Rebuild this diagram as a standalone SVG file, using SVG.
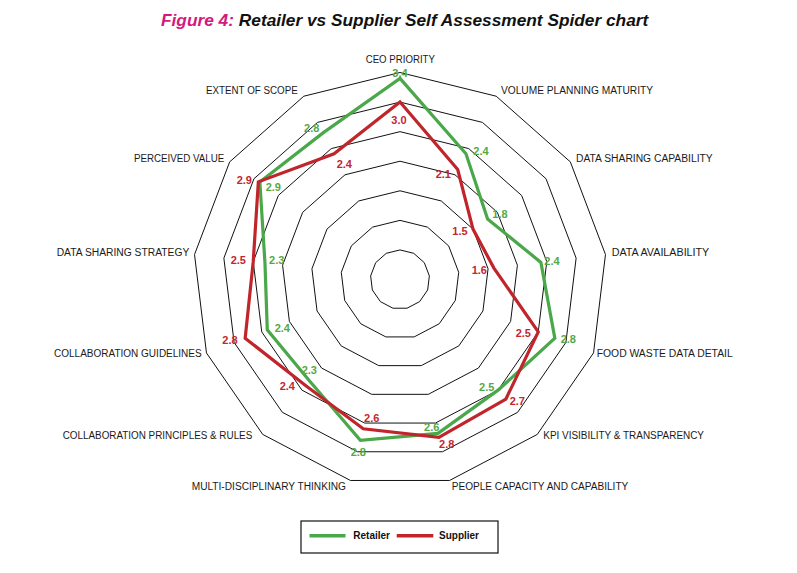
<svg xmlns="http://www.w3.org/2000/svg" xmlns:xlink="http://www.w3.org/1999/xlink" width="797" height="573" viewBox="0 0 797 573">
<style>
.bg{fill:#ffffff}
.ring{fill:none;stroke:#111;stroke-width:1;vector-effect:non-scaling-stroke}
.ax{font-family:"Liberation Sans",Arial,sans-serif;font-size:10px;fill:#1a1a1a}
.vg{font-family:"Liberation Sans",Arial,sans-serif;font-size:11px;font-weight:bold;fill:#55a845;text-anchor:middle}
.vr{font-family:"Liberation Sans",Arial,sans-serif;font-size:11px;font-weight:bold;fill:#c4262e;text-anchor:middle}
.lg{fill:none;stroke:#4aa84a;stroke-width:3.2;stroke-linejoin:miter}
.lr{fill:none;stroke:#c0252c;stroke-width:3.2;stroke-linejoin:miter}
.title{font-family:"Liberation Sans",Arial,sans-serif;font-size:17.3px;font-weight:bold;font-style:italic}
.leg{font-family:"Liberation Sans",Arial,sans-serif;font-size:10px;font-weight:bold;fill:#111}
</style>
<defs>
<polygon id="ringShape" class="ring" points="0,-100 46.472,-88.546 82.298,-56.806 99.271,-12.054 93.502,35.46 66.312,74.851 23.932,97.094 -23.932,97.094 -66.312,74.851 -93.502,35.46 -99.271,-12.054 -82.298,-56.806 -46.472,-88.546"/>
</defs>
<rect class="bg" x="0" y="0" width="797" height="573"/>
<g id="title">
<text class="title" x="161" y="26"><tspan fill="#d4197e">Figure 4:</tspan><tspan fill="#111"> Retailer vs Supplier Self Assessment Spider chart</tspan></text>
</g>
<g id="grid">
<use xlink:href="#ringShape" transform="translate(400 279.5) scale(0.2957)"/>
<use xlink:href="#ringShape" transform="translate(400 279.5) scale(0.5914)"/>
<use xlink:href="#ringShape" transform="translate(400 279.5) scale(0.8871)"/>
<use xlink:href="#ringShape" transform="translate(400 279.5) scale(1.1828)"/>
<use xlink:href="#ringShape" transform="translate(400 279.5) scale(1.4785)"/>
<use xlink:href="#ringShape" transform="translate(400 279.5) scale(1.7742)"/>
<use xlink:href="#ringShape" transform="translate(400 279.5) scale(2.0699)"/>
</g>
<g id="axis-labels">
<text id="ax-ceo" class="ax" x="365.7" y="63" textLength="69.3" lengthAdjust="spacingAndGlyphs">CEO PRIORITY</text>
<text id="ax-vpm" class="ax" x="501" y="93.5" textLength="152" lengthAdjust="spacingAndGlyphs">VOLUME PLANNING MATURITY</text>
<text id="ax-dsc" class="ax" x="576" y="162" textLength="136.7" lengthAdjust="spacingAndGlyphs">DATA SHARING CAPABILITY</text>
<text id="ax-da" class="ax" x="611.7" y="256" textLength="97.6" lengthAdjust="spacingAndGlyphs">DATA AVAILABILITY</text>
<text id="ax-fw" class="ax" x="596.7" y="357" textLength="136" lengthAdjust="spacingAndGlyphs">FOOD WASTE DATA DETAIL</text>
<text id="ax-kpi" class="ax" x="543.3" y="439.3" textLength="160.7" lengthAdjust="spacingAndGlyphs">KPI VISIBILITY &amp; TRANSPARENCY</text>
<text id="ax-pcc" class="ax" x="451.7" y="489.6" textLength="176.6" lengthAdjust="spacingAndGlyphs">PEOPLE CAPACITY AND CAPABILITY</text>
<text id="ax-mdt" class="ax" x="191.7" y="489.6" textLength="154.3" lengthAdjust="spacingAndGlyphs">MULTI-DISCIPLINARY THINKING</text>
<text id="ax-cpr" class="ax" x="62.7" y="439" textLength="189.6" lengthAdjust="spacingAndGlyphs">COLLABORATION PRINCIPLES &amp; RULES</text>
<text id="ax-cg" class="ax" x="54" y="357" textLength="147.7" lengthAdjust="spacingAndGlyphs">COLLABORATION GUIDELINES</text>
<text id="ax-dss" class="ax" x="56.7" y="256" textLength="132.6" lengthAdjust="spacingAndGlyphs">DATA SHARING STRATEGY</text>
<text id="ax-pv" class="ax" x="134" y="162" textLength="90.3" lengthAdjust="spacingAndGlyphs">PERCEIVED VALUE</text>
<text id="ax-eos" class="ax" x="206" y="93.5" textLength="91.7" lengthAdjust="spacingAndGlyphs">EXTENT OF SCOPE</text>
</g>
<g id="connectors">
<polygon id="series-retailer" class="lg" points="400,78.42 465.96,153.82 487.61,219.03 540.9,262.39 554.83,338.22 498.04,390.17 437.93,433.39 360.37,440.28 309.8,381.31 267.28,329.83 264.97,263.1 259.85,182.07 323.05,132.88"/>
<polygon id="series-supplier" class="lr" points="400,102.08 457.71,169.53 473.01,229.11 493.93,268.09 538.24,331.93 505.89,399.02 438.92,437.41 363.2,428.79 305.88,385.74 245.17,338.22 253.23,261.68 258.35,181.77 334.04,153.82"/>
</g>
<g id="values-retailer">
<text class="vg" x="400" y="76.5">3.4</text>
<text class="vg" x="481" y="155">2.4</text>
<text class="vg" x="500" y="218.3">1.8</text>
<text class="vg" x="552" y="264.7">2.4</text>
<text class="vg" x="568.3" y="343">2.8</text>
<text class="vg" x="486.7" y="391.3">2.5</text>
<text class="vg" x="431.7" y="430.7">2.6</text>
<text class="vg" x="358.3" y="455.7">2.8</text>
<text class="vg" x="309.3" y="374">2.3</text>
<text class="vg" x="282.3" y="331.7">2.4</text>
<text class="vg" x="276.7" y="264">2.3</text>
<text class="vg" x="273.3" y="190.7">2.9</text>
<text class="vg" x="311.7" y="132.3">2.8</text>
</g>
<g id="values-supplier">
<text class="vr" x="399" y="124">3.0</text>
<text class="vr" x="443.3" y="178.3">2.1</text>
<text class="vr" x="460" y="235">1.5</text>
<text class="vr" x="479.3" y="274">1.6</text>
<text class="vr" x="523.3" y="337.3">2.5</text>
<text class="vr" x="517.3" y="404.7">2.7</text>
<text class="vr" x="446.7" y="448.3">2.8</text>
<text class="vr" x="371.7" y="421.7">2.6</text>
<text class="vr" x="287.3" y="390">2.4</text>
<text class="vr" x="230" y="344">2.8</text>
<text class="vr" x="238.3" y="264">2.5</text>
<text class="vr" x="244.3" y="184">2.9</text>
<text class="vr" x="344.3" y="168">2.4</text>
</g>
<g id="legend">
<rect x="301" y="521" width="197" height="32" fill="#fff" stroke="#111" stroke-width="1.2"/>
<line x1="309.5" y1="535.7" x2="345.5" y2="535.7" stroke="#4aa84a" stroke-width="3.5"/>
<text class="leg" x="353.3" y="539.2">Retailer</text>
<line x1="396.7" y1="535.7" x2="433.3" y2="535.7" stroke="#c0252c" stroke-width="3.5"/>
<text class="leg" x="439" y="539.2">Supplier</text>
</g>
</svg>
